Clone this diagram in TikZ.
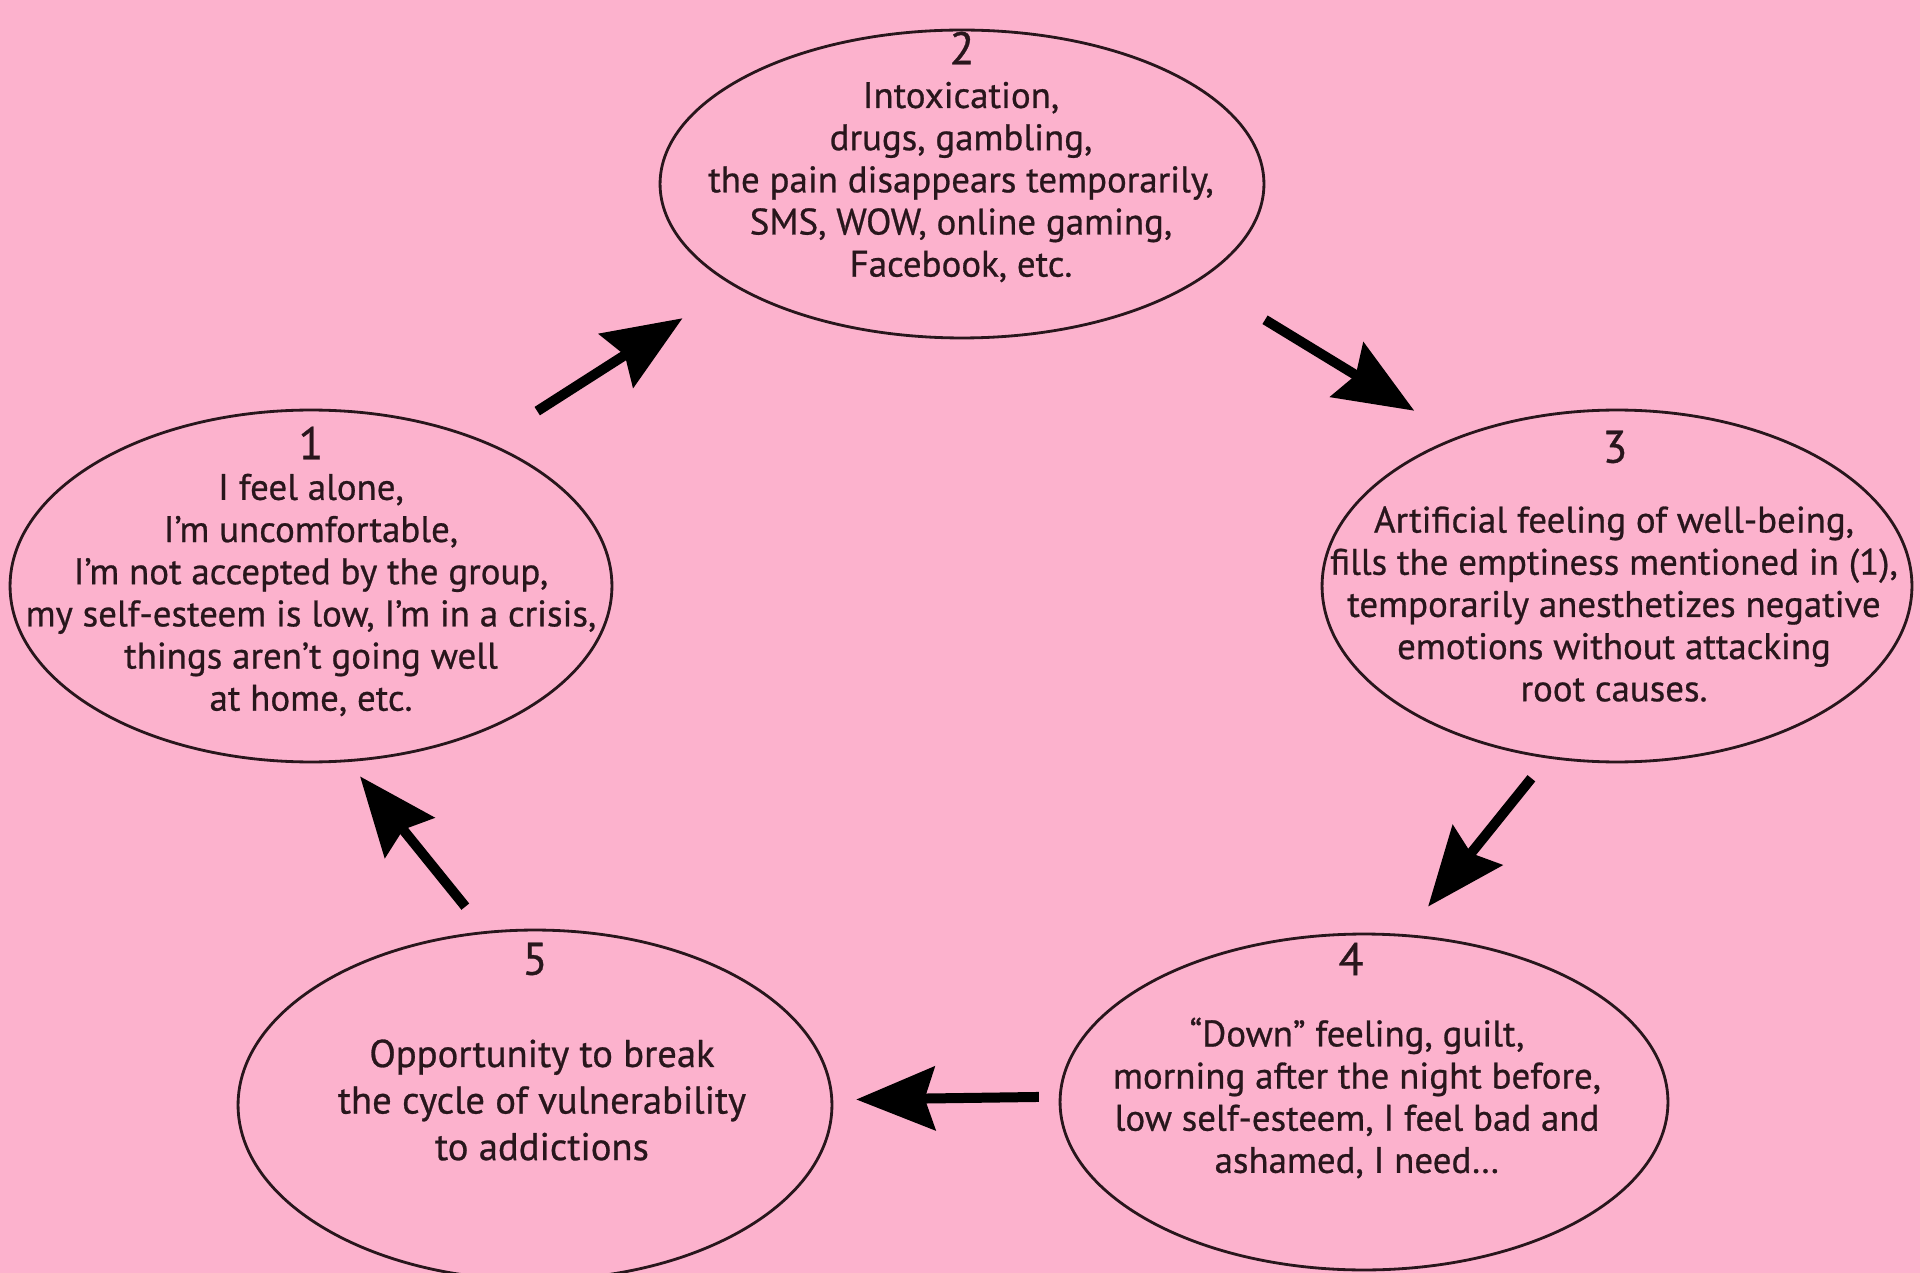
\documentclass[tikz,border=0pt]{standalone}
\usepackage{fontspec}
\setmainfont{PT Sans}
\newfontfamily\stagefont{PT Sans}[Ligatures=TeX, FakeBold=0.7]
\usetikzlibrary{arrows.meta,positioning,shapes.geometric}
\definecolor{CyclePink}{RGB}{252,178,205}
\definecolor{InkDark}{RGB}{40,22,28}

\begin{document}
\begin{tikzpicture}[x=0.02cm, y=-0.02cm,
	stage/.style={ellipse, draw=InkDark, line width=1.6pt, inner sep=0pt},
	txt/.style={align=center, text=InkDark, font=\stagefont\fontsize{21}{24}\selectfont, inner sep=0pt},
	num/.style={text=InkDark, font=\stagefont\fontsize{26}{26}\selectfont, inner sep=0pt},
	arr/.style={-{Stealth[length=1.57cm, width=1.26cm, inset=0.2cm]}, line width=0.2cm, black}]
	\fill[CyclePink] (0,0) rectangle (1920,1273);
	\useasboundingbox (0,0) rectangle (1920,1273);
	% the five stages
	\node[stage, minimum width=12.04cm, minimum height=7.04cm] (s1) at (311,586) {};
	\node[stage, minimum width=12.08cm, minimum height=6.16cm] (s2) at (962,184) {};
	\node[stage, minimum width=11.8cm, minimum height=7.04cm] (s3) at (1617,586) {};
	\node[stage, minimum width=12.16cm, minimum height=6.72cm] (s4) at (1364,1102) {};
	\node[stage, minimum width=11.88cm, minimum height=7cm] (s5) at (535,1105) {};
	\node[num] (n1) at (311,443) {1};
	\node[num] (n2) at (962,48) {2};
	\node[num] (n3) at (1615,447) {3};
	\node[num] (n4) at (1351,959) {4};
	\node[num] (n5) at (535,959) {5};
	\node[txt] (t1) at (311,595) {I feel alone,\\I'm uncomfortable,\\I'm not accepted by the group,\\my self-esteem is low, I'm in a crisis,\\things aren't going well\\at home, etc.};
	\node[txt] (t2) at (961,182) {Intoxication,\\drugs, gambling,\\the pain disappears temporarily,\\SMS, WOW, online gaming,\\Facebook, etc.};
	\node[txt] (t3) at (1614,604) {Artificial feeling of well-being,\\fills the emptiness mentioned in (1),\\temporarily anesthetizes negative\\emotions without attacking\\root causes.};
	\node[txt] (t4) at (1357,1098) {``Down'' feeling, guilt,\\morning after the night before,\\low self-esteem, I feel bad and\\ashamed, I need\ldots};
	\node[txt, font=\stagefont\fontsize{22}{26.5}\selectfont] (t5) at (542,1100) {Opportunity to break\\the cycle of vulnerability\\to addictions};
	% the cycle
	\draw[arr, shorten <=1.16cm, shorten >=1.2cm] (s1.39) -- (s2.204);
	\draw[arr, shorten <=1.52cm, shorten >=1cm] (s2.338) -- (s3.137);
	\draw[arr, shorten <=0.51cm, shorten >=0.71cm] (s3.248) -- (s4.76);
	\draw[arr, shorten <=0.4cm, shorten >=0.46cm] (s4.179) -- (s5.1);
	\draw[arr, shorten <=0.63cm, shorten >=0.37cm] (s5.106) -- (s1.282);
\end{tikzpicture}
\end{document}
